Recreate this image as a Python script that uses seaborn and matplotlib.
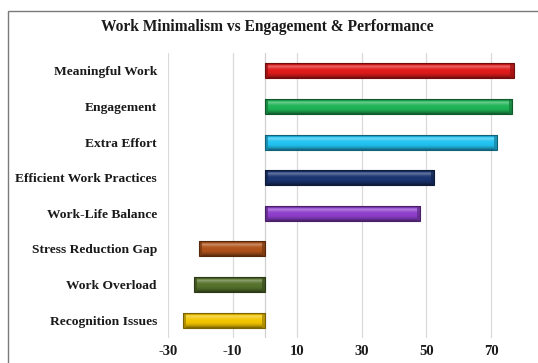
import numpy as np
import matplotlib
matplotlib.use("Agg")
import matplotlib.pyplot as plt
import matplotlib.patches as mpatches
from matplotlib.colors import to_rgb
import seaborn as sns
import pandas as pd

# Survey factors and their net scores
categories = ["Meaningful Work", "Engagement", "Extra Effort", "Efficient Work Practices",
              "Work-Life Balance", "Stress Reduction Gap", "Work Overload", "Recognition Issues"]
scores = [77, 76.5, 72, 52.5, 48, -20.5, -22, -25.5]
bar_colors = ["#E01B1B", "#1FB457", "#22C3F2", "#1B3572", "#8E3FCB", "#B0531A", "#56722C", "#F2C500"]
tick_values = [-30, -10, 10, 30, 50, 70]

sns.set_theme(style="white")
plt.rcParams["font.family"] = ["Liberation Serif", "DejaVu Serif"]

df = pd.DataFrame({"factor": categories, "score": scores})

fig = plt.figure(figsize=(5.38, 3.63), dpi=100)
ax = fig.add_axes([168 / 538, 25 / 363, 387.6 / 538, 285 / 363])

sns.barplot(data=df, x="score", y="factor", hue="factor", palette=bar_colors,
            legend=False, orient="h", width=0.42, saturation=1, ax=ax, zorder=3)

ax.set_xlim(-30, 90)
ax.set_ylim(len(categories) - 0.5, -0.5)
ax.set_xticks(tick_values)
ax.set_xticklabels([str(v) for v in tick_values], fontsize=10.5, fontweight="bold", color="#1a1a1a")
ax.tick_params(axis="x", length=0, pad=5)
ax.tick_params(axis="y", length=0, pad=8)
for lbl in ax.get_yticklabels():
    lbl.set_fontsize(9.7)
    lbl.set_fontweight("bold")
    lbl.set_color("#1a1a1a")
ax.set_xlabel("")
ax.set_ylabel("")
for s in ax.spines.values():
    s.set_visible(False)
for v in tick_values:
    ax.axvline(v, color="#DADADA", lw=0.9, zorder=1)
ax.axvline(0, color="#D0D0D0", lw=0.9, zorder=1)


def shade(rgb, f):
    rgb = np.array(rgb)
    if f >= 0:
        return rgb + (1 - rgb) * f
    return rgb * (1 + f)


# Bevelled finish on every bar
for patch, col in zip(ax.patches, bar_colors):
    x0, y0 = patch.get_x(), patch.get_y()
    w, h = patch.get_width(), patch.get_height()
    base = to_rgb(col)
    prof = np.array([-0.45, -0.1, 0.35, 0.2, 0.05, 0.0, 0.0, -0.05, -0.15, -0.3, -0.5])
    n = 60
    t = np.linspace(0, 1, n)
    fac = np.interp(t, np.linspace(0, 1, len(prof)), prof)
    img = np.array([[shade(base, f)] for f in fac])
    xa, xb = min(x0, x0 + w), max(x0, x0 + w)
    ax.imshow(img, extent=(xa, xb, y0 + h, y0), aspect="auto", zorder=4, interpolation="bilinear")
    end = 1.0
    for ex in (xa, xb - end):
        ax.add_patch(mpatches.Rectangle((ex, y0), end, h, facecolor=shade(base, -0.3),
                                        edgecolor="none", zorder=5, alpha=0.8))
    ax.add_patch(mpatches.Rectangle((xa, y0), xb - xa, h, facecolor="none",
                                    edgecolor=shade(base, -0.5), lw=0.8, zorder=6))
    patch.set_visible(False)

ax.set_xlim(-30, 90)
ax.set_ylim(len(categories) - 0.5, -0.5)

fig.text(267 / 538, 1 - 27 / 363, "Work Minimalism vs Engagement & Performance",
         ha="center", va="center", fontsize=11.2, fontweight="bold", color="#1a1a1a")

fig.patches.append(mpatches.Rectangle((8 / 538, -0.1), 1.2, (363 - 11) / 363 + 0.1,
                                      transform=fig.transFigure, facecolor="none",
                                      edgecolor="#7a7a7a", lw=1.0))

fig.savefig("out.png", dpi=100)
